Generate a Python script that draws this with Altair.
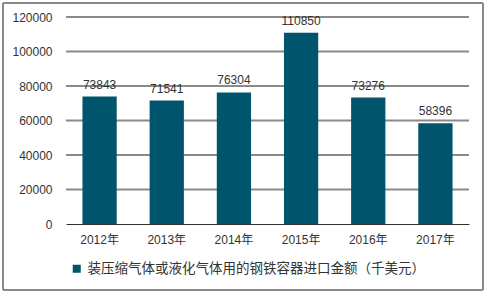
import altair as alt
import pandas as pd

years = ["2012年", "2013年", "2014年", "2015年", "2016年", "2017年"]
values = [73843, 71541, 76304, 110850, 73276, 58396]
series = "装压缩气体或液化气体用的钢铁容器进口金额（千美元）"
ticks = [0, 20000, 40000, 60000, 80000, 100000, 120000]

df = pd.DataFrame({"year": years, "value": values, "series": [series] * len(years)})
grid_df = pd.DataFrame({"v": ticks[1:]})

FONT = "Liberation Sans, Noto Sans CJK SC"

yaxis = alt.Axis(values=ticks, domain=False, ticks=False, labelPadding=14, labelFontSize=12,
                 labelColor="#333333", labelFont=FONT, grid=False,
                 labelOverlap=False, format="d")
yscale = alt.Scale(domain=[0, 120000])

grid = alt.Chart(grid_df).mark_rule(color="#8a8a8a", strokeWidth=2).encode(
    y=alt.Y("v:Q", scale=yscale, axis=yaxis, title=None),
)

base = alt.Chart(df).encode(
    x=alt.X("year:N", sort=years, title=None,
            scale=alt.Scale(paddingInner=0.49, paddingOuter=0.245),
            axis=alt.Axis(labelAngle=0, domainColor="#333333", ticks=False, grid=False,
                          labelPadding=10, labelFontSize=12, labelColor="#333333",
                          labelFont=FONT)),
)

bars = base.mark_bar(color="#00546c").encode(
    y=alt.Y("value:Q", title=None, scale=yscale, axis=yaxis),
    color=alt.Color("series:N", scale=alt.Scale(range=["#00546c"]),
                    legend=alt.Legend(title=None, orient="none", legendX=4, legendY=245,
                                      symbolType="square", symbolSize=64,
                                      labelFontSize=13.5, labelColor="#333333",
                                      labelFont=FONT, labelLimit=500)),
)

labels = base.mark_text(dy=-12, fontSize=12, color="#333333", font=FONT).encode(
    y=alt.Y("value:Q", title=None, scale=yscale, axis=yaxis),
    text=alt.Text("value:Q", format="d"),
)

border = alt.Chart(df).mark_rect(fill="transparent", stroke="#888888", strokeWidth=1).encode(
    x=alt.value(-63), x2=alt.value(417), y=alt.value(-14), y2=alt.value(273)
)

chart = alt.layer(grid, bars, labels, border).properties(
    width=403, height=207,
    autosize=alt.AutoSizeParams(type="none"),
    padding={"left": 66, "top": 17, "right": 18, "bottom": 70},
    background="white",
).configure_view(stroke=None)

chart.save("out.html", embed_options={"renderer": "svg", "actions": False})
